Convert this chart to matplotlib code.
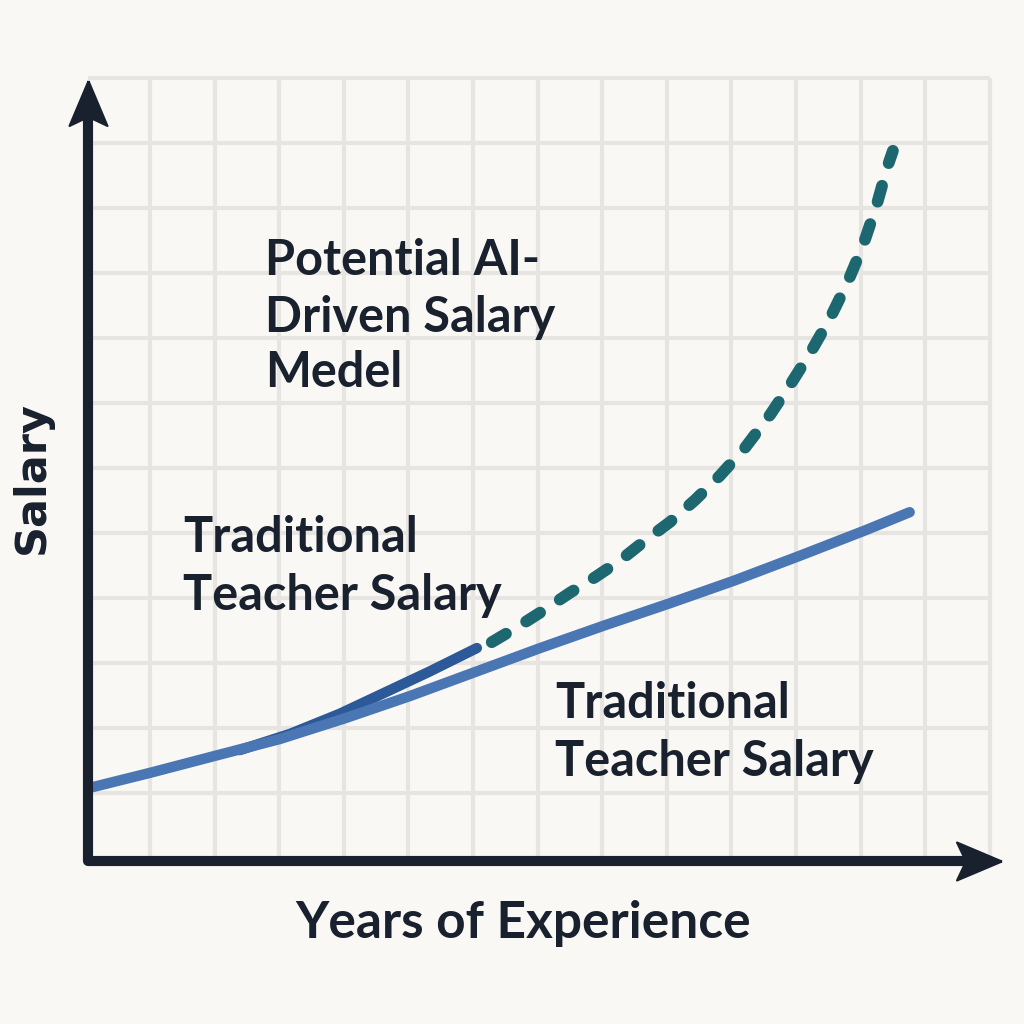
import matplotlib
matplotlib.use("Agg")
import matplotlib.pyplot as plt
import numpy as np

# ---------------- data (grid units: 1 unit = one grid cell) ----------------
years_trad = [0.07, 1.00, 2.00, 3.01, 4.02, 5.02, 6.03, 7.04, 8.04, 9.05,
              10.05, 11.06, 12.07, 12.76]
salary_trad = [1.08, 1.31, 1.57, 1.83, 2.15, 2.49, 2.86, 3.23, 3.58, 3.92,
               4.27, 4.65, 5.04, 5.32]

years_ai_early = [2.39, 3.17, 3.94, 4.56, 5.33, 6.06]
salary_ai_early = [1.66, 1.91, 2.22, 2.51, 2.87, 3.23]

years_ai_proj = [6.29, 6.73, 7.11, 7.50, 7.89, 8.28, 8.66, 9.05, 9.44, 9.82,
                 10.21, 10.60, 10.91, 11.22, 11.53, 11.80, 12.04, 12.25,
                 12.41, 12.50]
salary_ai_proj = [3.32, 3.58, 3.82, 4.08, 4.32, 4.58, 4.88, 5.17, 5.51, 5.88,
                  6.31, 6.82, 7.28, 7.77, 8.31, 8.86, 9.43, 10.05, 10.62,
                  10.88]

grid_x = list(range(1, 15))
grid_y = list(range(1, 13))

x_label = "Years of Experience"
y_label = "Salary"
ai_label = ["Potential AI-", "Driven Salary", "Medel"]
trad_label = ["Traditional", "Teacher Salary"]

# ---------------- style ----------------
BG = "#f9f8f5"
GRID = "#e7e5e1"
INK = "#18212d"
BLUE = "#4a77b4"
DARK_BLUE = "#2c5a98"
TEAL = "#1d6770"
FONT = ["Lato", "DejaVu Sans"]

fig = plt.figure(figsize=(10.24, 10.24), dpi=100, facecolor=BG)
ax = fig.add_axes([0, 0, 1, 1])
ax.set_facecolor(BG)
# pixel mapping: px = 85.4 + 64.6*x ; py = 858 - 65*y
ax.set_xlim(-85.4 / 64.6, (1024 - 85.4) / 64.6)
ax.set_ylim(-(1024 - 858) / 65, 858 / 65)
ax.axis("off")

x0 = (88 - 85.4) / 64.6
y0 = (858 - 861) / 65

# grid
for gx in grid_x:
    ax.plot([gx, gx], [y0, grid_y[-1]], color=GRID, lw=3, zorder=1,
            solid_capstyle="butt")
for gy in grid_y:
    ax.plot([x0, grid_x[-1]], [gy, gy], color=GRID, lw=3, zorder=1,
            solid_capstyle="butt")

# axes with arrowheads
y_tip = 11.62
x_tip = 13.84
ax.plot([x_tip - 0.2, x0, x0], [y0, y0, y_tip - 0.2], color=INK, lw=7.3,
        solid_joinstyle="round", solid_capstyle="butt", zorder=5)
head = np.array([[0, 22.5], [19, -22.5], [0, -13.5], [-19, -22.5], [0, 22.5]])
head_r = np.column_stack([head[:, 1], -head[:, 0]])
ax.plot([x0], [y_tip], marker=head, markersize=32.4, color=INK,
        markeredgewidth=1.5, markeredgecolor=INK, zorder=6)
ax.plot([x_tip], [y0], marker=head_r, markersize=32.4, color=INK,
        markeredgewidth=1.5, markeredgecolor=INK, zorder=6)

# series
ax.plot(years_trad, salary_trad, color=BLUE, lw=7.5, solid_capstyle="round",
        solid_joinstyle="round", zorder=4)
ax.plot(years_ai_early, salary_ai_early, color=DARK_BLUE, lw=7.5,
        solid_capstyle="round", solid_joinstyle="round", zorder=3)
ax.plot(years_ai_proj, salary_ai_proj, color=TEAL, lw=8.5,
        dashes=(1.4, 2.0), dash_capstyle="round", dash_joinstyle="round",
        zorder=3)


def px(x):
    return (x - 85.4) / 64.6


def py(y):
    return (858 - y) / 65


txt = dict(color=INK, fontweight="bold", zorder=7)
for line, b in zip(ai_label, [275, 332, 387]):
    ax.text(px(265), py(b), line, fontsize=35, family=FONT, ha="left",
            va="baseline", **txt)
for line, b in zip(trad_label, [552, 610]):
    ax.text(px(183), py(b), line, fontsize=35, family=FONT, ha="left",
            va="baseline", **txt)
for line, b in zip(trad_label, [718, 776]):
    ax.text(px(555), py(b), line, fontsize=35, family=FONT, ha="left",
            va="baseline", **txt)

ax.text(px(523), py(938), x_label, fontsize=37, family=FONT, ha="center",
        va="baseline", **txt)
ax.text(px(44), py(477), y_label, fontsize=31, family=["DejaVu Sans"],
        ha="center", va="baseline", rotation=90, rotation_mode="anchor", **txt)

fig.savefig("out.png", dpi=100, facecolor=BG)
